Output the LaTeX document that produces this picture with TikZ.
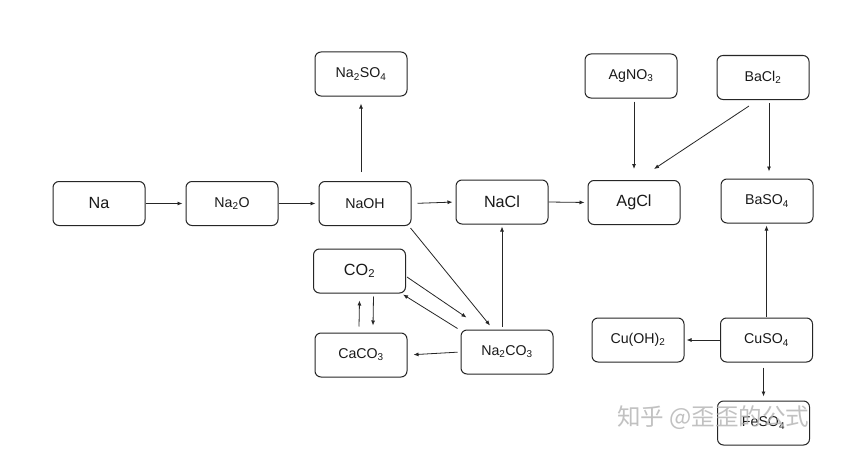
\documentclass[tikz,border=0pt]{standalone}
\usepackage{fontspec}
\setmainfont{Liberation Sans}
\newfontfamily\cjk{Noto Sans CJK SC}
\usetikzlibrary{arrows.meta,calc}
\begin{document}
\begin{tikzpicture}[x=1pt,y=-1pt,
  box/.style={draw=black!85,line width=1pt,rounded corners=6pt,minimum width=92pt,minimum height=44pt,inner sep=0pt,font=\fontsize{14.2}{16}\selectfont,text=black!90},
  big/.style={font=\fontsize{16.2}{18}\selectfont},
  arr/.style={-{Latex[length=5pt,width=4pt]},line width=0.8pt,black!85}]
\useasboundingbox[fill=white] (0,0) rectangle (842,452);
\node[box,big] (na) at (99,203.5) {Na};
\node[box] (na2o) at (232,203.5) {Na\textsubscript{2}O};
\node[box] (naoh) at (365,203.5) {NaOH};
\node[box] (na2so4) at (361,74) {Na\textsubscript{2}SO\textsubscript{4}};
\node[box,big] (nacl) at (502,202) {NaCl};
\node[box,big] (agcl) at (634,202.5) {AgCl};
\node[box] (agno3) at (631,76) {AgNO\textsubscript{3}};
\node[box] (bacl2) at (763,77.5) {BaCl\textsubscript{2}};
\node[box] (baso4) at (767,201) {BaSO\textsubscript{4}};
\node[box,big] (co2) at (359.5,271) {CO\textsubscript{2}};
\node[box] (caco3) at (361,355) {CaCO\textsubscript{3}};
\node[box] (na2co3) at (507,352) {Na\textsubscript{2}CO\textsubscript{3}};
\node[box] (cuoh) at (638,340) {Cu(OH)\textsubscript{2}};
\node[box] (cuso4) at (766.5,340) {CuSO\textsubscript{4}};
\node[box] (feso4) at (763.5,423) {FeSO\textsubscript{4}};
% arrows
\draw[arr,shorten >=3pt] (na.east) -- (na2o.west);
\draw[arr,shorten >=3pt] (na2o.east) -- (naoh.west);
\draw[arr,shorten <=6pt,shorten >=3pt] (naoh.east) -- (nacl.west);
\draw[arr,shorten >=3pt] (nacl.east) -- (agcl.west);
\draw[arr,shorten <=9pt,shorten >=7pt] (naoh.north -| na2so4.south) -- (na2so4.south);
\draw[arr,shorten <=3pt,shorten >=11pt] (agno3.south -| agcl.north) -- (agcl.north);
\draw[arr] ($(bacl2.south)+(-14,6)$) -- ($(agcl.north)+(20,-11)$);
\draw[arr] ($(bacl2.south)+(6,3)$) -- ($(baso4.north)+(2,-7)$);
\draw[arr,shorten <=1pt,shorten >=2pt] (cuso4.north) -- (cuso4.north |- baso4.south);
\draw[arr,shorten >=2pt] (cuso4.west) -- (cuoh.east);
\draw[arr,shorten <=5pt,shorten >=4pt] (cuso4.south -| feso4.north) -- (feso4.north);
\draw[arr,shorten <=3pt,shorten >=2pt] (na2co3.north -| nacl.south) -- (nacl.south);
\draw[arr] ($(naoh.south east)+(-1,2)$) -- ($(na2co3.north)+(-17,-4)$);
\draw[arr] ($(co2.east)+(1,6)$) -- ($(na2co3.north west)+(6,-12)$);
\draw[arr] ($(na2co3.north west)+(-3,-1)$) -- ($(co2.south east)+(-3,1)$);
\draw[arr,shorten <=3pt,shorten >=6pt] (na2co3.west) -- (caco3.east);
\draw[arr] ($(caco3.north)+(-2,-6)$) -- ($(co2.south)+(0,7)$);
\draw[arr] ($(co2.south)+(14,3)$) -- ($(caco3.north)+(12,-7)$);
% watermark
\node[anchor=west,inner sep=0pt,text=black!30,opacity=0.8,font=\cjk\fontsize{23.5}{25}\selectfont] (wm) at (617,418) {知乎 @歪歪的公式};
\end{tikzpicture}
\end{document}
